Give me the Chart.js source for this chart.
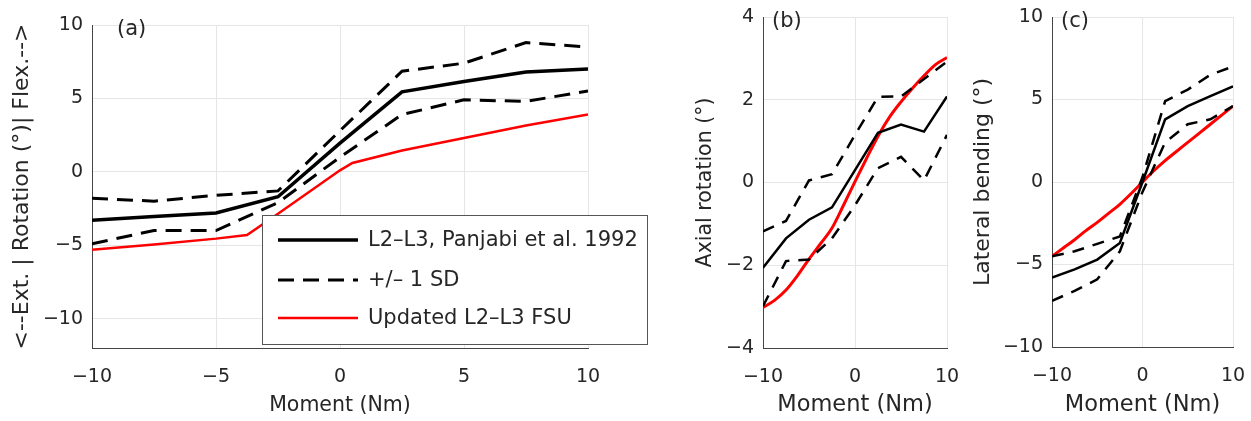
<!DOCTYPE html>
<html>
<head>
<meta charset="utf-8">
<script src="https://cdn.jsdelivr.net/npm/chart.js@4.4.1/dist/chart.umd.min.js"></script>
<style>
  body { margin: 0; background: #fff; width: 1251px; height: 421px; position: relative; overflow: hidden; }
  canvas { position: absolute; top: 0; }
</style>
</head>
<body>
<canvas id="chartA" width="660" height="421" style="left:0"></canvas>
<canvas id="chartB" width="300" height="421" style="left:660px"></canvas>
<canvas id="chartC" width="291" height="421" style="left:960px"></canvas>
<script>
// moments at which Panjabi et al. report data (Nm)
const moment = [-10, -7.5, -5, -2.5, 0, 2.5, 5, 7.5, 10];

// (a) flexion / extension
const flexMean  = [-3.3, -3.05, -2.8, -1.7, 1.95, 5.45, 6.15, 6.8, 7.0];
const flexUpper = [-1.8, -2.0, -1.6, -1.3, 2.8, 6.85, 7.4, 8.8, 8.5];
const flexLower = [-4.9, -4.0, -4.0, -2.1, 1.0, 3.9, 4.9, 4.8, 5.5];
const flexModelMoment = [-10, -7.5, -5, -3.75, -2.5, 0, 0.5, 2.5, 5, 7.5, 10];
const flexModel = [-5.3, -4.95, -4.55, -4.3, -2.85, 0.1, 0.6, 1.45, 2.3, 3.15, 3.9];

// (b) axial rotation
const axialMean  = [-2.06, -1.35, -0.9, -0.6, 0.3, 1.2, 1.4, 1.23, 2.08];
const axialUpper = [-1.18, -0.93, 0.05, 0.2, 1.15, 2.07, 2.08, 2.5, 2.92];
const axialLower = [-2.99, -1.9, -1.86, -1.35, -0.55, 0.35, 0.62, 0.05, 1.15];
const modelMoment = [-10, -8.75, -7.5, -6.25, -5, -3.75, -2.5, -1.25, 0, 1.25, 2.5, 3.75, 5, 6.25, 7.5, 8.75, 10];
const axialModel = [-3.02, -2.85, -2.6, -2.25, -1.85, -1.48, -1.1, -0.55, 0.02, 0.58, 1.12, 1.58, 1.95, 2.28, 2.58, 2.85, 3.02];

// (c) lateral bending
const latMean  = [-5.8, -5.3, -4.7, -3.7, 0, 3.8, 4.6, 5.2, 5.8];
const latUpper = [-4.5, -4.2, -3.75, -3.3, 0.3, 4.9, 5.6, 6.5, 7.0];
const latLower = [-7.2, -6.6, -5.9, -4.2, -0.6, 2.4, 3.5, 3.8, 4.6];
const latModel = [-4.5, -4.0, -3.5, -2.95, -2.45, -1.9, -1.35, -0.7, 0, 0.68, 1.3, 1.85, 2.4, 2.95, 3.5, 4.05, 4.6];

const legendLabels = ['L2\u2013L3, Panjabi et al. 1992', '+/\u2013 1 SD', 'Updated L2\u2013L3 FSU'];

const FONT = '"DejaVu Sans", sans-serif';
const TXT = '#262626';

function pts(xs, ys) {
  return xs.map((x, i) => ({ x: x, y: ys[i] }));
}
function minus(v) {
  return String(v).replace('-', '\u2212');
}

// panel letter drawn inside the axes
const panelLetter = {
  id: 'panelLetter',
  afterDraw(chart, args, opts) {
    const ctx = chart.ctx, a = chart.chartArea;
    ctx.save();
    ctx.font = '21px ' + FONT;
    ctx.fillStyle = TXT;
    ctx.textBaseline = 'middle';
    ctx.fillText(opts.text, a.left + opts.dx, a.top + opts.dy);
    ctx.restore();
  }
};

// matlab-like boxed legend, placed over the lower right of panel (a)
const boxLegend = {
  id: 'boxLegend',
  afterDraw(chart, args, opts) {
    if (!opts.show) return;
    const ctx = chart.ctx;
    const b = opts.box;
    ctx.save();
    ctx.fillStyle = '#fff';
    ctx.fillRect(b.left, b.top, b.right - b.left, b.bottom - b.top);
    ctx.strokeStyle = '#555';
    ctx.lineWidth = 1;
    ctx.strokeRect(b.left + 0.5, b.top + 0.5, b.right - b.left, b.bottom - b.top);
    const items = chart.data.datasets.filter(d => d.label);
    items.forEach((d, i) => {
      const y = opts.rows[i];
      ctx.beginPath();
      ctx.strokeStyle = d.borderColor;
      ctx.lineWidth = d.borderWidth;
      ctx.setLineDash(d.borderDash || []);
      ctx.moveTo(opts.lineX0, y);
      ctx.lineTo(opts.lineX1, y);
      ctx.stroke();
      ctx.setLineDash([]);
      ctx.fillStyle = TXT;
      ctx.font = opts.size + 'px ' + FONT;
      ctx.textBaseline = 'middle';
      ctx.fillText(d.label, opts.textX, y + 1);
    });
    ctx.restore();
  }
};

function makeScales(o) {
  return {
    x: {
      type: 'linear', min: -10, max: 10,
      // fixed axis height; let the end labels hang over the margins
      afterFit: s => { s.height = o.xh; s.paddingLeft = 0; s.paddingRight = 0; },
      ticks: { stepSize: o.xstep, color: TXT, font: { family: FONT, size: o.tick }, padding: o.xpad, maxRotation: 0,
               callback: v => minus(v) },
      grid: { color: '#e6e6e6', drawTicks: false },
      border: { display: true, color: '#444', width: 1 },
      title: { display: true, text: 'Moment (Nm)', color: TXT, font: { family: FONT, size: o.title },
               padding: { top: 0, bottom: o.xtpad } }
    },
    y: {
      min: o.ymin, max: o.ymax,
      afterFit: s => { s.width = o.yw; s.paddingTop = 0; s.paddingBottom = 0; },
      afterBuildTicks: s => { s.ticks = s.ticks.filter(t => t.value % o.ystep === 0); },
      ticks: { stepSize: o.ystep, color: TXT, font: { family: FONT, size: o.tick }, padding: 9,
               callback: v => minus(v) },
      grid: { color: '#e6e6e6', drawTicks: false },
      border: { display: true, color: '#444', width: 1 },
      title: { display: true, text: o.ylabel, color: TXT, font: { family: FONT, size: o.ytitle },
               padding: { top: o.ytpad, bottom: 0 } }
    }
  };
}

function makeChart(id, datasets, o) {
  return new Chart(document.getElementById(id), {
    type: 'line',
    data: { datasets: datasets },
    options: {
      responsive: false,
      animation: false,
      events: [],
      layout: { autoPadding: false, padding: { left: 0, top: o.top, right: o.right, bottom: 0 } },
      elements: { point: { radius: 0 } },
      plugins: {
        legend: { display: false },
        tooltip: { enabled: false },
        panelLetter: { text: o.letter, dx: o.ldx, dy: o.ldy },
        boxLegend: o.legend || { show: false }
      },
      scales: makeScales(o)
    },
    plugins: [panelLetter, boxLegend]
  });
}

// (a)
makeChart('chartA', [
  { label: legendLabels[0], data: pts(moment, flexMean), borderColor: '#000', borderWidth: 3.5, tension: 0 },
  { label: legendLabels[1], data: pts(moment, flexUpper), borderColor: '#000', borderWidth: 3, borderDash: [16, 9], tension: 0 },
  { data: pts(moment, flexLower), borderColor: '#000', borderWidth: 3, borderDash: [16, 9], tension: 0 },
  { label: legendLabels[2], data: pts(flexModelMoment, flexModel), borderColor: '#ff0000', borderWidth: 2.5, tension: 0 }
], {
  top: 25, right: 72, yw: 92, xh: 73, xstep: 5, ymin: -12, ymax: 10, ystep: 5,
  tick: 19, title: 20.5, ytitle: 22, xpad: 18, xtpad: 3, ytpad: 9,
  ylabel: '<--Ext. | Rotation (\u00b0)| Flex.-->',
  letter: '(a)', ldx: 25, ldy: 5,
  legend: { show: true, box: { left: 262, top: 215, right: 647, bottom: 344 },
            rows: [240, 280, 318], lineX0: 278, lineX1: 358, textX: 368, size: 21 }
});

// (b)
makeChart('chartB', [
  { data: pts(moment, axialMean), borderColor: '#000', borderWidth: 2.5, tension: 0 },
  { data: pts(moment, axialUpper), borderColor: '#000', borderWidth: 2.5, borderDash: [12, 9], tension: 0 },
  { data: pts(moment, axialLower), borderColor: '#000', borderWidth: 2.5, borderDash: [12, 9], tension: 0 },
  { data: pts(modelMoment, axialModel), borderColor: '#ff0000', borderWidth: 3, cubicInterpolationMode: 'monotone' }
], {
  top: 17, right: 13, yw: 103, xh: 73, xstep: 10, ymin: -4, ymax: 4, ystep: 2,
  tick: 19, title: 22.5, ytitle: 20.5, xpad: 18, xtpad: 2, ytpad: 33,
  ylabel: 'Axial rotation (\u00b0)',
  letter: '(b)', ldx: 9, ldy: 5
});

// (c)
makeChart('chartC', [
  { data: pts(moment, latMean), borderColor: '#000', borderWidth: 2.5, tension: 0 },
  { data: pts(moment, latUpper), borderColor: '#000', borderWidth: 2.5, borderDash: [12, 9], tension: 0 },
  { data: pts(moment, latLower), borderColor: '#000', borderWidth: 2.5, borderDash: [12, 9], tension: 0 },
  { data: pts(modelMoment, latModel), borderColor: '#ff0000', borderWidth: 3, cubicInterpolationMode: 'monotone' }
], {
  top: 17, right: 18, yw: 92, xh: 74, xstep: 10, ymin: -10, ymax: 10, ystep: 5,
  tick: 19, title: 22.5, ytitle: 22, xpad: 18, xtpad: 2, ytpad: 10,
  ylabel: 'Lateral bending (\u00b0)',
  letter: '(c)', ldx: 9, ldy: 5
});
</script>
</body>
</html>
